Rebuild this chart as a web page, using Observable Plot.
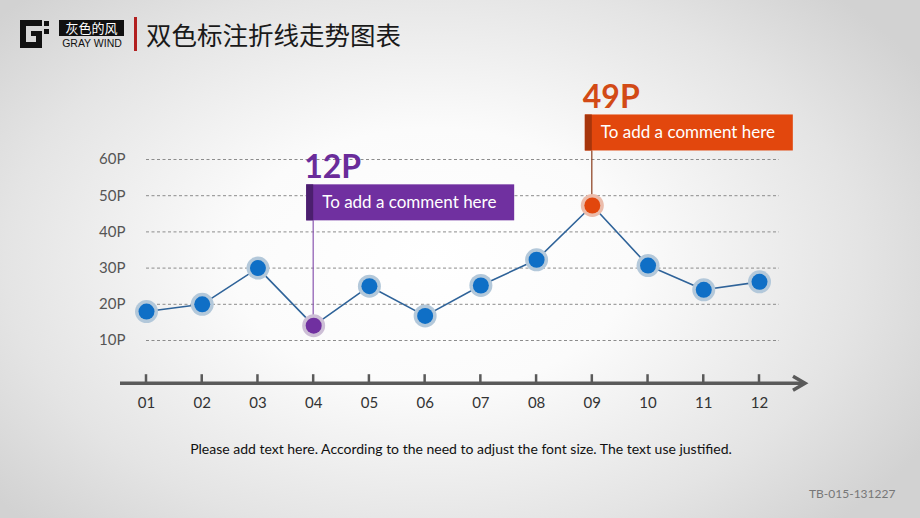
<!DOCTYPE html>
<html>
<head>
<meta charset="utf-8">
<script src="https://cdn.jsdelivr.net/npm/d3@7"></script>
<script src="https://cdn.jsdelivr.net/npm/@observablehq/plot@0.6"></script>
<style>
  html, body { margin: 0; padding: 0; }
  #page {
    position: relative; width: 920px; height: 518px; overflow: hidden;
    background: radial-gradient(ellipse 62% 72% at 47% 50%, #ffffff 0%, #fbfbfb 35%, #e4e4e4 75%, #d2d2d2 100%);
    font-family: Lato, "Noto Sans", sans-serif;
  }
  #chart { position: absolute; left: 0; top: 0; }
  .abs { position: absolute; white-space: nowrap; }
</style>
</head>
<body>
<div id="page">
  <svg class="abs" style="left:20px;top:20px" width="30" height="29" viewBox="0 0 30 29">
    <path fill="#111" d="M0 0H22V6H6V22H16V16H11V11H22V28H0Z"/>
    <rect x="24" y="1" width="5" height="5" fill="#111"/>
    <rect x="24" y="9" width="5" height="5" fill="#111"/>
  </svg>
  <div class="abs" style="left:59px;top:20px;width:65px;height:16px;background:#111;color:#fff;font:13px 'Noto Sans CJK SC';line-height:16px;text-align:center;">灰色的风</div>
  <div class="abs" style="left:59px;top:37px;width:66px;color:#111;font:10.5px 'Liberation Sans', Arial;line-height:12px;text-align:center;">GRAY WIND</div>
  <div class="abs" style="left:134px;top:17px;width:3px;height:34px;background:#b22020;"></div>
  <div class="abs" style="left:146px;top:17px;color:#1a1a1a;font:25.5px 'Noto Sans CJK SC';line-height:34px;">双色标注折线走势图表</div>
  <div id="chart"></div>
  <div class="abs" style="left:0;width:922px;top:440px;text-align:center;color:#111;font-size:14px;">Please add text here. According to the need to adjust the font size. The text use justified.</div>
  <div class="abs" style="left:809px;top:486px;color:#777;font-size:12px;">TB-015-131227</div>
</div>
<script>
const months = ["01","02","03","04","05","06","07","08","09","10","11","12"];
const values = [18, 20, 30, 14.1, 25, 16.8, 25.2, 32.3, 47.3, 30.7, 24, 26.2];
const yTicks = [10, 20, 30, 40, 50, 60];
const annoMonths = ["04", "09"];
const annoLabels = ["12P", "49P"];
const annoComments = ["To add a comment here", "To add a comment here"];

const data = months.map((m, i) => ({month: m, value: values[i]}));

const annoStyle = [
  {level: 53, main: "#7030a0", dark: "#4b1f6e", label: "#6a2c9a", line: "#8a55b0", halo: "#cdbfd6"},
  {level: 72.3, main: "#e2470d", dark: "#a7350c", label: "#d24a16", line: "#8a3c1c", halo: "#ebbcab"}
];
const dotColor = m => { const k = annoMonths.indexOf(m); return k < 0 ? "#0f6fc6" : annoStyle[k].main; };
const haloColor = m => { const k = annoMonths.indexOf(m); return k < 0 ? "#b3c8da" : annoStyle[k].halo; };

function axisDecor(index, scales) {
  const g = d3.create("svg:g");
  const y0 = scales.y(0) + 7;
  const xa = scales.x(months[0]) - 26, xb = scales.x(months[months.length - 1]) + 46;
  g.append("line").attr("x1", xa).attr("x2", xb - 2).attr("y1", y0).attr("y2", y0)
    .attr("stroke", "#5a5a5a").attr("stroke-width", 3.5);
  g.append("path").attr("d", `M${xb - 12},${y0 - 7}L${xb},${y0}L${xb - 12},${y0 + 7}`)
    .attr("fill", "none").attr("stroke", "#5a5a5a").attr("stroke-width", 3.5);
  for (const m of months) {
    const x = scales.x(m);
    g.append("line").attr("x1", x).attr("x2", x).attr("y1", y0 - 9).attr("y2", y0)
      .attr("stroke", "#5a5a5a").attr("stroke-width", 2.5);
  }
  return g.node();
}

function annotations(index, scales) {
  const g = d3.create("svg:g").attr("text-anchor", "start");
  annoMonths.forEach((m, i) => {
    const s = annoStyle[i];
    const px = scales.x(m);
    const py = scales.y(values[months.indexOf(m)]);
    const top = scales.y(s.level);
    const h = 36, w = 208, strip = 7;
    g.append("line").attr("x1", px).attr("x2", px).attr("y1", top + h).attr("y2", py)
      .attr("stroke", s.line).attr("stroke-width", 1.2);
    g.append("rect").attr("x", px - strip).attr("y", top).attr("width", w).attr("height", h).attr("fill", s.main);
    g.append("rect").attr("x", px - strip).attr("y", top).attr("width", strip).attr("height", h).attr("fill", s.dark);
    g.append("text").attr("x", px + 9).attr("y", top + h / 2).attr("dy", "0.35em").attr("text-anchor", "start")
      .attr("fill", "#fff").attr("font-size", 17).text(annoComments[i]);
    g.append("text").attr("x", px - 9).attr("y", top - 6).attr("text-anchor", "start")
      .attr("fill", s.label).attr("font-size", 32).attr("font-weight", "bold").text(annoLabels[i]);
  });
  return g.node();
}

const chart = Plot.plot({
  width: 920,
  height: 518,
  marginLeft: 146,
  marginRight: 141,
  marginTop: 0,
  marginBottom: 142,
  style: {background: "transparent", fontFamily: "Lato, 'Noto Sans', sans-serif", overflow: "visible"},
  x: {type: "point", domain: months, range: [146, 759], padding: 0, round: false, label: null},
  y: {domain: [0, 60], range: [376.2, 159], label: null},
  marks: [
    Plot.gridY(yTicks, {stroke: "#8c8c8c", strokeOpacity: 1, strokeDasharray: "3,2.5", strokeWidth: 1}),
    Plot.axisY(yTicks, {tickSize: 0, tickPadding: 21, tickFormat: d => d + "P", fontSize: 15, color: "#555", label: null}),
    Plot.axisX({tickSize: 0, tickPadding: 21, fontSize: 15, color: "#333", label: null}),
    axisDecor,
    Plot.line(data, {x: "month", y: "value", stroke: "#2f6399", strokeWidth: 1.6}),
    annotations,
    Plot.dot(data, {x: "month", y: "value", r: 11.5, fill: d => haloColor(d.month), stroke: "none"}),
    Plot.dot(data, {x: "month", y: "value", r: 8, fill: d => dotColor(d.month), stroke: "none"})
  ]
});
document.getElementById("chart").appendChild(chart);
</script>
</body>
</html>
